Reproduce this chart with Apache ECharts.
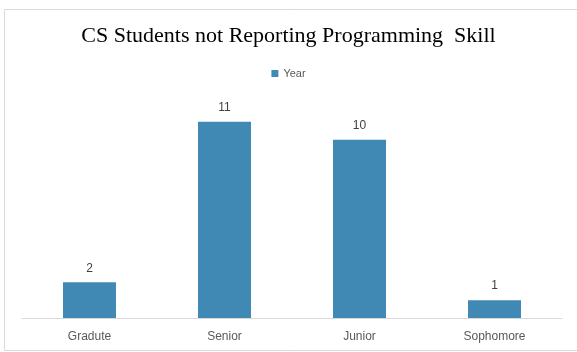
<!DOCTYPE html>
<html>
<head>
<meta charset="utf-8">
<script src="https://cdn.jsdelivr.net/npm/echarts@6/dist/echarts.min.js"></script>
<style>
  html, body { margin: 0; padding: 0; background: #fff; }
  #chart { width: 577px; height: 352px; }
</style>
</head>
<body>
<div id="chart"></div>
<script>
const categories = ['Gradute', 'Senior', 'Junior', 'Sophomore'];
const yearValues = [2, 11, 10, 1];
const seriesName = 'Year';

const chart = echarts.init(document.getElementById('chart'));

chart.setOption({
  backgroundColor: '#ffffff',
  animation: false,
  title: {
    text: 'CS Students not Reporting Programming  Skill',
    left: 'center',
    top: 20,
    textStyle: {
      fontFamily: 'Liberation Serif',
      fontWeight: 'normal',
      fontSize: 22,
      color: '#000000',
    },
  },
  legend: {
    data: [seriesName],
    top: 63,
    left: 'center',
    icon: 'rect',
    itemWidth: 7,
    itemHeight: 7,
    itemGap: 5,
    textStyle: {
      fontFamily: 'Liberation Sans',
      fontSize: 11,
      color: '#595959',
    },
  },
  graphic: [
    {
      type: 'rect',
      shape: { x: 4.5, y: 9.5, width: 590, height: 341 },
      style: { fill: 'none', stroke: '#d9d9d9', lineWidth: 1 },
      silent: true,
    },
  ],
  grid: {
    left: 22,
    right: 15,
    top: 104,
    bottom: 34,
  },
  xAxis: {
    type: 'category',
    data: categories,
    axisLine: { lineStyle: { color: '#d9d9d9' } },
    axisTick: { show: false },
    axisLabel: {
      margin: 13,
      fontFamily: 'Liberation Sans',
      fontSize: 12,
      color: '#595959',
    },
  },
  yAxis: {
    type: 'value',
    min: 0,
    max: 12,
    show: false,
    splitLine: { show: false },
  },
  series: [
    {
      name: seriesName,
      type: 'bar',
      data: yearValues,
      barWidth: 53,
      itemStyle: { color: '#4189b5' },
      label: {
        show: true,
        position: 'top',
        distance: 8,
        fontFamily: 'Liberation Sans',
        fontSize: 12,
        color: '#404040',
      },
    },
  ],
});
</script>
</body>
</html>
